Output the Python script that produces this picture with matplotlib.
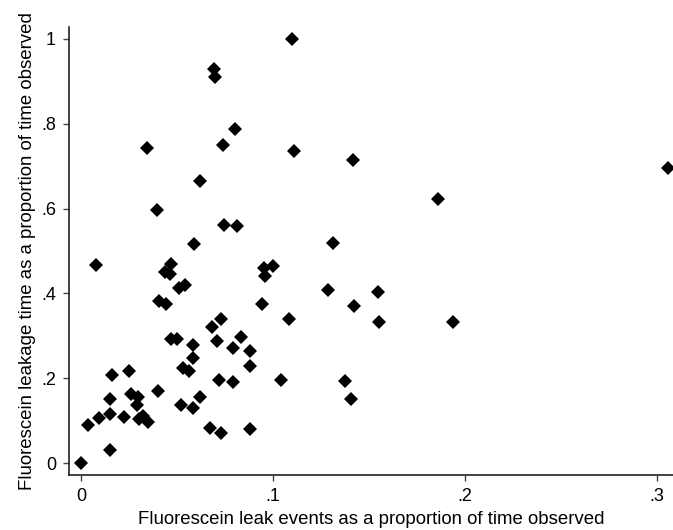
import numpy as np
import matplotlib
matplotlib.use("Agg")
import matplotlib.pyplot as plt

plt.rcParams['font.family'] = ['Liberation Sans', 'DejaVu Sans']

# leak events as proportion of time observed (x) vs leakage time proportion (y)
leak_events = [
    0.000, 0.015, 0.0035, 0.009, 0.015, 0.015, 0.016, 0.022, 0.025, 0.026,
    0.0295, 0.029, 0.030, 0.032, 0.0346, 0.0075, 0.040, 0.0405, 0.044, 0.0434,
    0.046, 0.047, 0.0507, 0.054, 0.059, 0.047, 0.050, 0.058, 0.058, 0.053,
    0.056, 0.052, 0.058, 0.062, 0.067, 0.073, 0.088, 0.068, 0.073, 0.071,
    0.0716, 0.079, 0.079, 0.0835, 0.088, 0.088, 0.094, 0.095, 0.096, 0.100,
    0.104, 0.131, 0.1287, 0.1545, 0.142, 0.1085, 0.155, 0.1936, 0.1377, 0.1405,
    0.069, 0.0695, 0.080, 0.0737, 0.034, 0.062, 0.0394, 0.0745, 0.081, 0.110,
    0.111, 0.1417, 0.186, 0.3057,
]
leak_time = [
    0.000, 0.031, 0.089, 0.105, 0.115, 0.152, 0.207, 0.109, 0.216, 0.162,
    0.156, 0.136, 0.104, 0.111, 0.096, 0.466, 0.169, 0.381, 0.376, 0.451,
    0.445, 0.470, 0.412, 0.420, 0.517, 0.292, 0.292, 0.278, 0.248, 0.224,
    0.218, 0.136, 0.129, 0.156, 0.082, 0.071, 0.080, 0.321, 0.339, 0.288,
    0.195, 0.191, 0.270, 0.297, 0.264, 0.229, 0.376, 0.460, 0.442, 0.464,
    0.195, 0.519, 0.409, 0.403, 0.371, 0.340, 0.332, 0.332, 0.193, 0.152,
    0.928, 0.909, 0.788, 0.750, 0.742, 0.666, 0.596, 0.561, 0.559, 1.000,
    0.735, 0.714, 0.622, 0.696,
]

xticks = [0, 0.1, 0.2, 0.3]
xtick_labels = ["0", ".1", ".2", ".3"]
yticks = [0, 0.2, 0.4, 0.6, 0.8, 1.0]
ytick_labels = ["0", ".2", ".4", ".6", ".8", "1"]

fig = plt.figure(figsize=(6.73, 5.30), dpi=100)
ax = fig.add_axes([0.103, 0.104, 0.897, 0.845])

ax.plot(leak_events, leak_time, linestyle='none', marker='D',
        markersize=7, color='black', markeredgewidth=0)

ax.set_xlim(-0.00625, 0.3085)
ax.set_ylim(-0.028, 1.028)

ax.set_xticks(xticks)
ax.set_xticklabels(xtick_labels)
ax.set_yticks(yticks)
ax.set_yticklabels(ytick_labels)

ax.spines['top'].set_visible(False)
ax.spines['right'].set_visible(False)
for side in ['left', 'bottom']:
    ax.spines[side].set_linewidth(1.2)
    ax.spines[side].set_color('#222222')
ax.tick_params(direction='out', length=4.5, width=1.0, color='#444444',
               labelsize=13, pad=5)

ax.set_xlabel("Fluorescein leak events as a proportion of time observed",
              fontsize=13.4, labelpad=4)
ax.set_ylabel("Fluorescein leakage time as a proportion of time observed",
              fontsize=13.4, labelpad=4)

fig.savefig("out.png", dpi=100)
